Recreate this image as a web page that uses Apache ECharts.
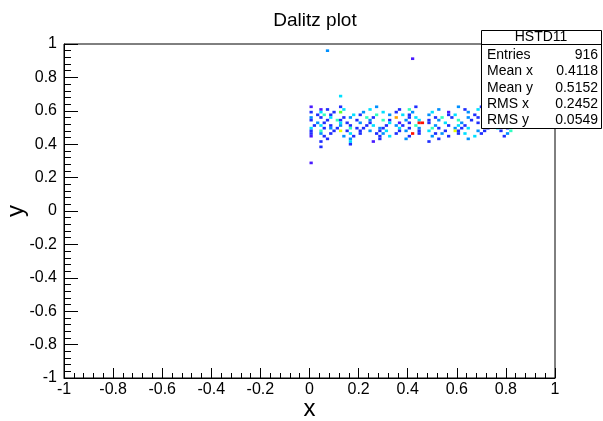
<!DOCTYPE html>
<html><head><meta charset="utf-8">
<script src="https://cdn.jsdelivr.net/npm/echarts@6/dist/echarts.min.js"></script>
<style>html,body{margin:0;padding:0;background:#fff}#c{width:603px;height:421px}</style>
</head><body><div id="c"></div>
<script>
// ---- data ----
const xTicks = [-1, -0.8, -0.6, -0.4, -0.2, 0, 0.2, 0.4, 0.6, 0.8, 1];
const yTicks = [-1, -0.8, -0.6, -0.4, -0.2, 0, 0.2, 0.4, 0.6, 0.8, 1];
const binWidthX = 2 / 150;
const binWidthY = 2 / 125;
const rowY = [0.624, 0.608, 0.592, 0.576, 0.560, 0.544, 0.528, 0.512, 0.496, 0.480, 0.464, 0.448, 0.432, 0.416];
const rowCells = [
  [[0.01,1],[0.12,2],[0.27,3],[0.43,2],[0.60,3],[0.70,2]],
  [[0.05,1],[0.07,2],[0.14,4],[0.25,4],[0.37,2],[0.40,5],[0.52,3],[0.63,2],[0.68,4],[0.79,3]],
  [[0.00,2],[0.04,4],[0.10,2],[0.13,6],[0.22,3],[0.30,4],[0.35,2],[0.42,3],[0.50,4],[0.57,1],[0.64,3],[0.71,2],[0.82,4]],
  [[0.03,2],[0.06,5],[0.09,2],[0.18,4],[0.21,2],[0.27,5],[0.32,3],[0.38,4],[0.41,2],[0.49,3],[0.56,2],[0.59,4],[0.67,2],[0.72,3],[0.80,2]],
  [[0.00,3],[0.05,2],[0.08,4],[0.14,2],[0.17,3],[0.23,5],[0.26,2],[0.35,8],[0.40,2],[0.43,4],[0.51,2],[0.54,5],[0.58,2],[0.65,3],[0.69,2],[0.78,4]],
  [[0.01,2],[0.07,2],[0.11,5],[0.13,2],[0.19,2],[0.25,3],[0.30,5],[0.33,2],[0.39,3],[0.44,4],[0.48,2],[0.53,3],[0.61,5],[0.66,2],[0.74,3],[0.81,2]],
  [[0.03,3],[0.06,2],[0.12,4],[0.15,2],[0.21,3],[0.24,2],[0.32,4],[0.36,1],[0.41,2],[0.45,9],[0.46,9],[0.49,2],[0.55,4],[0.62,3],[0.68,2],[0.72,4],[0.85,2]],
  [[0.02,2],[0.05,4],[0.08,2],[0.13,3],[0.16,2],[0.23,2],[0.26,4],[0.31,2],[0.35,3],[0.38,2],[0.43,5],[0.51,3],[0.56,2],[0.60,4],[0.63,2],[0.71,3],[0.75,2]],
  [[0.00,4],[0.06,2],[0.09,3],[0.11,2],[0.17,5],[0.19,2],[0.22,2],[0.28,3],[0.30,2],[0.37,4],[0.40,2],[0.44,3],[0.50,5],[0.53,2],[0.59,3],[0.62,2],[0.65,4],[0.73,2],[0.77,4],[0.80,2]],
  [[0.01,2],[0.04,5],[0.10,2],[0.13,7],[0.15,2],[0.21,2],[0.24,3],[0.29,2],[0.31,4],[0.36,2],[0.39,3],[0.45,2],[0.49,4],[0.55,2],[0.59,7],[0.61,2],[0.68,3],[0.71,2],[0.78,2],[0.82,5]],
  [[0.00,2],[0.05,3],[0.08,2],[0.16,4],[0.20,2],[0.27,2],[0.30,3],[0.35,2],[0.42,9],[0.44,2],[0.51,2],[0.54,3],[0.60,2],[0.63,4],[0.70,2],[0.81,3]],
  [[0.01,1],[0.06,2],[0.14,3],[0.18,2],[0.28,2],[0.33,4],[0.40,2],[0.50,3],[0.57,2],[0.67,4],[0.79,2]],
  [[0.07,2],[0.17,3],[0.29,2],[0.39,3],[0.52,2],[0.65,3]],
  [[0.04,2],[0.17,4],[0.26,1],[0.48,2]]
];
const outliers = [[0.04,0.38,2],[0.17,0.395,2],[0.0,0.29,1],[0.069,0.964,3],[0.415,0.904,1],[0.12,0.685,4]];
const statsTitle = 'HSTD11';
const statsLabels = ['Entries', 'Mean x', 'Mean y', 'RMS x', 'RMS y'];
const statsValues = ['916', '0.4118', '0.5152', '0.2452', '0.0549'];

// ---- build ----
const palette = ['#4a1aff','#1e2eff','#0090ff','#00e0ff','#30ffc0','#60ff30','#e8ff00','#ffa000','#ff1000'];
const cells = [];
rowY.forEach((y, i) => rowCells[i].forEach(c => cells.push([c[0], y, c[1]])));
outliers.forEach(o => cells.push(o));

const FONT = 'Liberation Sans';
const graphics = [
  {type:'rect', shape:{x:481.5, y:30.5, width:120, height:98}, style:{fill:'#fff', stroke:'#000', lineWidth:1}, z:100},
  {type:'line', shape:{x1:481.5, y1:44.5, x2:601.5, y2:44.5}, style:{stroke:'#000', lineWidth:1}, z:101},
  {type:'text', x:541, y:37.5, style:{text:statsTitle, font:'14px "'+FONT+'"', fill:'#000', align:'center', verticalAlign:'middle'}, z:101}
];
statsLabels.forEach((l, i) => {
  const yy = 55 + i * 16.4;
  graphics.push({type:'text', x:487, y:yy, style:{text:l, font:'14px "'+FONT+'"', fill:'#000', align:'left', verticalAlign:'middle'}, z:101});
  graphics.push({type:'text', x:598, y:yy, style:{text:statsValues[i], font:'14px "'+FONT+'"', fill:'#000', align:'right', verticalAlign:'middle'}, z:101});
});

const fmt = v => String(parseFloat(Number(v).toFixed(2)));
const chart = echarts.init(document.getElementById('c'), null, {renderer:'canvas'});
chart.setOption({
  animation:false,
  backgroundColor:'#fff',
  title:{text:'Dalitz plot', left:310, top:6, textAlign:'center',
    textStyle:{fontFamily:FONT, fontSize:19, fontWeight:'normal', color:'#000'}},
  grid:{left:64, right:48, top:44, bottom:43, outerBoundsMode:'none', containLabel:false,
    show:true, borderColor:'#000', borderWidth:1, backgroundColor:'transparent'},
  xAxis:{type:'value', min:xTicks[0], max:xTicks[xTicks.length-1], interval:0.2,
    name:'x', nameLocation:'middle', nameGap:19, nameMoveOverlap:false,
    nameTextStyle:{fontFamily:FONT, fontSize:24, color:'#000', verticalAlign:'top'},
    axisLine:{onZero:false, lineStyle:{color:'#000', width:1}},
    axisTick:{inside:true, length:10, lineStyle:{color:'#000'}},
    minorTick:{show:true, splitNumber:5, length:5, lineStyle:{color:'#000'}},
    splitLine:{show:false},
    axisLabel:{fontFamily:FONT, fontSize:16, color:'#000', margin:4, formatter:fmt, showMinLabel:true, showMaxLabel:true, hideOverlap:false}},
  yAxis:{type:'value', min:yTicks[0], max:yTicks[yTicks.length-1], interval:0.2,
    name:'y', nameLocation:'middle', nameGap:36, nameRotate:90, nameMoveOverlap:false,
    nameTextStyle:{fontFamily:FONT, fontSize:24, color:'#000'},
    axisLine:{onZero:false, lineStyle:{color:'#000', width:1}},
    axisTick:{inside:true, length:14, lineStyle:{color:'#000'}},
    minorTick:{show:true, splitNumber:5, length:7, lineStyle:{color:'#000'}},
    splitLine:{show:false},
    axisLabel:{fontFamily:FONT, fontSize:16, color:'#000', margin:7, formatter:fmt, showMinLabel:true, showMaxLabel:true, hideOverlap:false}},
  series:[{
    type:'custom', clip:true, data:cells,
    renderItem:function(params, api){
      const x = api.value(0), y = api.value(1), n = api.value(2);
      const ix = Math.floor((x + 1) / binWidthX + 1e-9);
      const iy = Math.floor((y + 1) / binWidthY + 1e-9);
      const x0 = -1 + ix * binWidthX, y0 = -1 + iy * binWidthY;
      const p0 = api.coord([x0, y0 + binWidthY]);
      const p1 = api.coord([x0 + binWidthX, y0]);
      return {type:'rect', shape:{x:p0[0], y:p0[1], width:p1[0]-p0[0], height:p1[1]-p0[1]},
        style:{fill:palette[Math.min(n, palette.length) - 1]}};
    }
  }],
  graphic:graphics
});
</script></body></html>
